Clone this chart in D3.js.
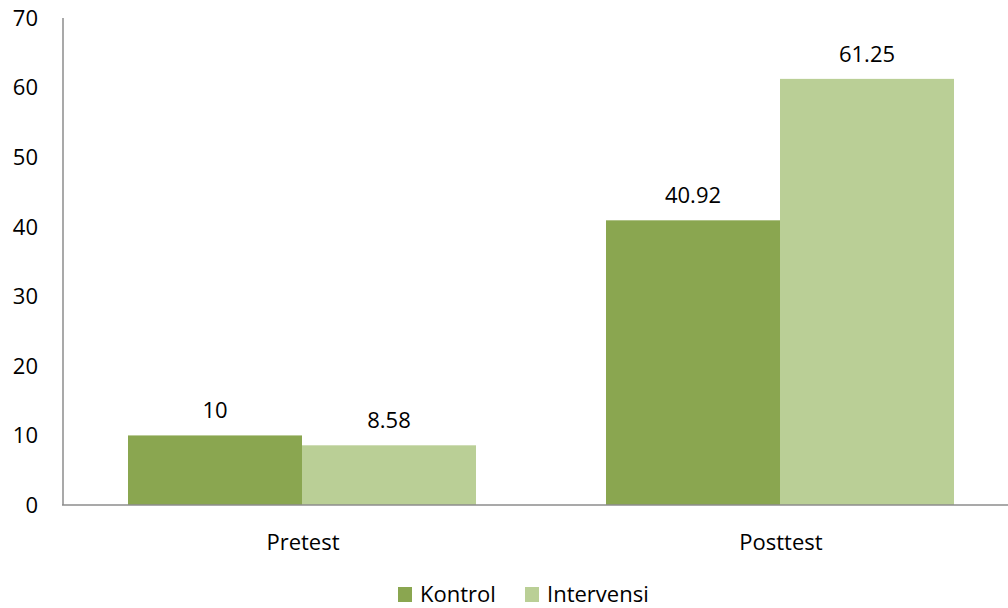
<!DOCTYPE html>
<html>
<head>
<meta charset="utf-8">
<script src="https://cdn.jsdelivr.net/npm/d3@7"></script>
<style>
  body { margin: 0; background: #fff; }
  text { font-family: "Open Sans", sans-serif; fill: #000; }
</style>
</head>
<body>
<script>
const w = 1008;
const h = 608;

// data
const categories = ["Pretest", "Posttest"];
const seriesNames = ["Kontrol", "Intervensi"];
const kontrol = [10, 40.92];
const intervensi = [8.58, 61.25];
const yTicks = [0, 10, 20, 30, 40, 50, 60, 70];

const colors = ["#8aa650", "#bacf96"];
const seriesValues = [kontrol, intervensi];

let svg = d3.select("body")
    .append("svg")
    .attr("width", w)
    .attr("height", h);

let x = d3.scaleBand()
    .domain(categories)
    .range([63, 1019])
    .paddingInner(0)
    .paddingOuter(0);

let x1 = d3.scaleBand()
    .domain(seriesNames)
    .range([65, x.bandwidth() - 65]);

let y = d3.scaleLinear()
    .domain([0, 70])
    .range([505, 18]);

// y axis labels
svg.append("g")
    .selectAll("text")
    .data(yTicks)
    .enter()
    .append("text")
    .attr("x", 38)
    .attr("y", (d) => y(d))
    .attr("dy", "0.36em")
    .attr("text-anchor", "end")
    .style("font-size", "22px")
    .text((d) => d);

// bars
let groups = svg.selectAll("g.cat")
    .data(categories)
    .enter()
    .append("g")
    .attr("class", "cat")
    .attr("transform", (d) => "translate(" + x(d) + ",0)");

groups.selectAll("rect")
    .data((d, i) => seriesNames.map((s, j) => ({ s: s, v: seriesValues[j][i], j: j })))
    .enter()
    .append("rect")
    .attr("x", (d) => x1(d.s))
    .attr("width", x1.bandwidth())
    .attr("y", (d) => y(d.v))
    .attr("height", (d) => y(0) - y(d.v))
    .style("fill", (d) => colors[d.j]);

groups.selectAll("text.val")
    .data((d, i) => seriesNames.map((s, j) => ({ s: s, v: seriesValues[j][i] })))
    .enter()
    .append("text")
    .attr("class", "val")
    .attr("x", (d) => x1(d.s) + x1.bandwidth() / 2)
    .attr("y", (d) => y(d.v) - 17)
    .attr("text-anchor", "middle")
    .style("font-size", "22px")
    .text((d) => d.v);

// axis lines
svg.append("line")
    .attr("x1", 63).attr("x2", 63)
    .attr("y1", 18).attr("y2", 505)
    .style("stroke", "#8c8c8c")
    .style("stroke-width", 1.5);
svg.append("line")
    .attr("x1", 62).attr("x2", 1019)
    .attr("y1", 505).attr("y2", 505)
    .style("stroke", "#8c8c8c")
    .style("stroke-width", 1.5);

// category labels
svg.append("g")
    .selectAll("text")
    .data(categories)
    .enter()
    .append("text")
    .attr("x", (d) => x(d) + x.bandwidth() / 2 + 1)
    .attr("y", 550)
    .attr("text-anchor", "middle")
    .style("font-size", "22px")
    .text((d) => d);

// legend
const legendX = [398, 525];
let legend = svg.append("g")
    .selectAll("g")
    .data(seriesNames)
    .enter()
    .append("g")
    .attr("transform", (d, i) => "translate(" + legendX[i] + ",587)");
legend.append("rect")
    .attr("width", 14)
    .attr("height", 15)
    .style("fill", (d, i) => colors[i]);
legend.append("text")
    .attr("x", 22)
    .attr("y", 15)
    .style("font-size", "22px")
    .text((d) => d);
</script>
</body>
</html>
